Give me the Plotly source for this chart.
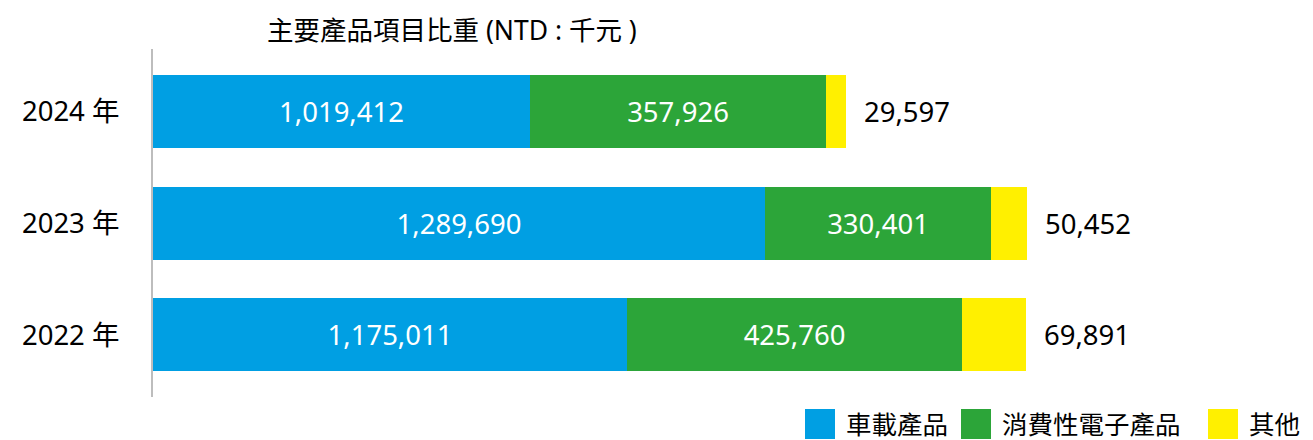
import plotly.graph_objects as go

# ---- data ----
years = ["2022 年", "2023 年", "2024 年"]
series_names = ["車載產品", "消費性電子產品", "其他"]
# bar lengths as drawn in the reference (relative scale, not proportional to the labels)
car_len = [474, 612, 377]
consumer_len = [335, 226, 296]
other_len = [64, 36, 20]
# value labels (NTD thousand)
car_vals = [1175011, 1289690, 1019412]
consumer_vals = [425760, 330401, 357926]
other_vals = [69891, 50452, 29597]

colors = ["#009FE3", "#2CA539", "#FFF000"]
FONT = "Noto Sans, Noto Sans CJK TC, sans-serif"

W, H = 1313, 440
ML, MR, MT, MB = 153, 20, 49, 43

fig = go.Figure()
for name, lens, vals, col in [
    (series_names[0], car_len, car_vals, colors[0]),
    (series_names[1], consumer_len, consumer_vals, colors[1]),
    (series_names[2], other_len, other_vals, colors[2]),
]:
    is_other = name == "其他"
    fig.add_trace(go.Bar(
        y=years, x=lens, orientation="h", name=name,
        marker=dict(color=col, line=dict(width=0)),
        width=0.652,
        text=None if is_other else [f"{v:,}" for v in vals],
        textposition="inside", insidetextanchor="middle",
        textfont=dict(color="white", size=27.5, family=FONT),
        hoverinfo="skip", showlegend=False,
    ))

# outside labels for "其他"
totals = [a + b + c for a, b, c in zip(car_len, consumer_len, other_len)]
for y, t, v in zip(years, totals, other_vals):
    fig.add_annotation(x=t, y=y, text=f"{v:,}", showarrow=False,
                       xanchor="left", xshift=16,
                       font=dict(size=27.5, color="black", family=FONT))

pw = W - ML - MR
ph = H - MT - MB
def px2x(px):
    return (px - ML) / pw
def py2y(py):
    return (H - MB - py) / ph

# title
fig.add_annotation(x=px2x(452), y=py2y(30), xref="paper", yref="paper",
                   text="主要產品項目比重 (NTD : 千元 )", showarrow=False,
                   xanchor="center", yanchor="middle",
                   font=dict(size=26.5, color="black", family=FONT))

# custom legend with large squares
legend_items = [(805, series_names[0], colors[0]),
                (961, series_names[1], colors[1]),
                (1208, series_names[2], colors[2])]
for x0, label, col in legend_items:
    fig.add_shape(type="rect", xref="paper", yref="paper",
                  x0=px2x(x0), x1=px2x(x0 + 30), y0=py2y(439), y1=py2y(409),
                  fillcolor=col, line=dict(width=0))
    fig.add_annotation(x=px2x(x0 + 39), y=py2y(424), xref="paper", yref="paper",
                       text=label, showarrow=False, xanchor="left", yanchor="middle",
                       font=dict(size=25.5, color="black", family=FONT))

fig.update_layout(
    width=W, height=H,
    margin=dict(l=ML, r=MR, t=MT, b=MB, pad=0),
    barmode="stack", bargap=0,
    plot_bgcolor="white", paper_bgcolor="white",
    uniformtext=dict(minsize=27, mode="show"),
    xaxis=dict(range=[0, pw], visible=False, fixedrange=True),
    yaxis=dict(range=[-0.554, 2.554], showgrid=False, zeroline=False,
               showline=True, linecolor="#BDBDBD", linewidth=2,
               ticks="", ticklabelstandoff=26, fixedrange=True,
               tickfont=dict(size=27.5, color="black", family=FONT)),
)

fig.write_html("out.html", config={"displayModeBar": False},
               post_script="document.body.style.margin='0';document.body.style.padding='0';")
